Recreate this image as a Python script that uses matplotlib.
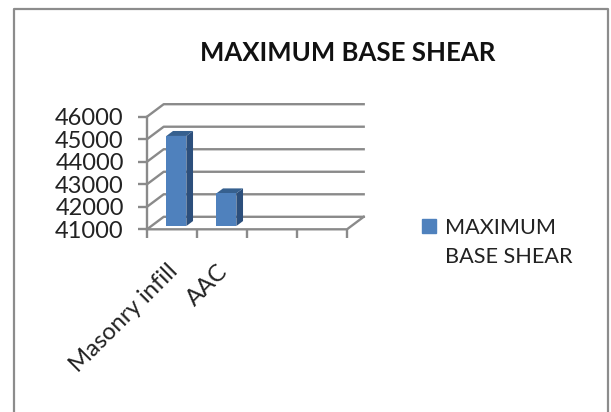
import matplotlib
matplotlib.use('Agg')
import matplotlib.pyplot as plt
from matplotlib.patches import Polygon, Rectangle

categories = ['Masonry infill', 'AAC']
base_shear = [45000, 42450]
y_ticks = [41000, 42000, 43000, 44000, 45000, 46000]
x_edges = [0, 1, 2, 3, 4]
series_name = 'MAXIMUM\nBASE SHEAR'

W, H = 611, 412
GREY = '#8a8a8a'
BLUE = '#4f81bd'

plt.rcParams['font.family'] = ['Lato', 'DejaVu Sans']

fig = plt.figure(figsize=(W / 100, H / 100), dpi=100)

# outer chart frame, open at the bottom like the screenshot
fig.add_artist(plt.Line2D([13.5 / W, 13.5 / W, 607.5 / W, 607.5 / W],
                          [0, 1 - 8.5 / H, 1 - 8.5 / H, 0],
                          color='#8c8c8c', lw=1.6))

# front plane of the fake 3d box
ax = fig.add_axes([147 / W, 1 - 229.3 / H, 200 / W, 112.6 / H])
ax.set_xlim(0, 4)
ax.set_ylim(41000, 46000)
ax.patch.set_visible(False)
for s in ['top', 'right', 'bottom']:
    ax.spines[s].set_visible(False)
ax.spines['left'].set_color(GREY)
ax.spines['left'].set_linewidth(1.7)

# depth of the box in data units
dx = 0.334
dy = 555

# walls and floor
for v in y_ticks:
    ax.plot([0, dx, 4 + dx], [v, v + dy, v + dy], color=GREY, lw=1.7, clip_on=False, zorder=1)
ax.plot([0, 4, 4 + dx], [41000, 41000, 41000 + dy], color=GREY, lw=1.7, clip_on=False, zorder=1)

ax.set_yticks(y_ticks)
ax.set_xticks(x_edges)
ax.set_xticklabels([])
ax.tick_params(axis='both', color=GREY, width=1.7, length=6.2)
ax.tick_params(axis='y', labelsize=17, pad=10.5, labelcolor='#222222')

# bars sit part way into the box
bar_w = 0.4
d0 = 0.26
d1 = 0.66
for i, val in enumerate(base_shear):
    x0 = i + 0.5 - bar_w / 2 + d0 * dx
    x1 = x0 + bar_w
    y0 = 41000 + d0 * dy
    y1 = val + d0 * dy
    step_x = (d1 - d0) * dx
    step_y = (d1 - d0) * dy
    ax.add_patch(Polygon([(x1, y0), (x1 + step_x, y0 + step_y), (x1 + step_x, y1 + step_y), (x1, y1)],
                         fc='#2c4f7c', ec='none', clip_on=False, zorder=3))
    ax.add_patch(Polygon([(x0, y1), (x1, y1), (x1 + step_x, y1 + step_y), (x0 + step_x, y1 + step_y)],
                         fc='#36608f', ec='none', clip_on=False, zorder=3))
    ax.bar(i + 0.5 + d0 * dx, val - 41000, width=bar_w, bottom=y0, color=BLUE, clip_on=False, zorder=4)

# category labels
for i, name in enumerate(categories):
    ax.annotate(name, xy=(i + 0.5, 41000), xytext=(2, -28), textcoords='offset points',
                rotation=45, rotation_mode='anchor', ha='right', va='center',
                fontsize=17.2, color='#222222', annotation_clip=False)

fig.text(348 / W, 1 - 53 / H, 'MAXIMUM BASE SHEAR', ha='center', va='center',
         fontsize=18.5, fontweight='bold', color='#111111')

# legend, placed by hand because the swatch lines up with the first text line
fig.add_artist(Rectangle((421.7 / W, 1 - 233 / H), 14 / W, 14 / H, color=BLUE, transform=fig.transFigure))
fig.text(445 / W, 1 - 242.5 / H, series_name, ha='left', va='center', fontsize=15.6,
         linespacing=1.62, color='#222222')

fig.savefig('out.png', dpi=100)
